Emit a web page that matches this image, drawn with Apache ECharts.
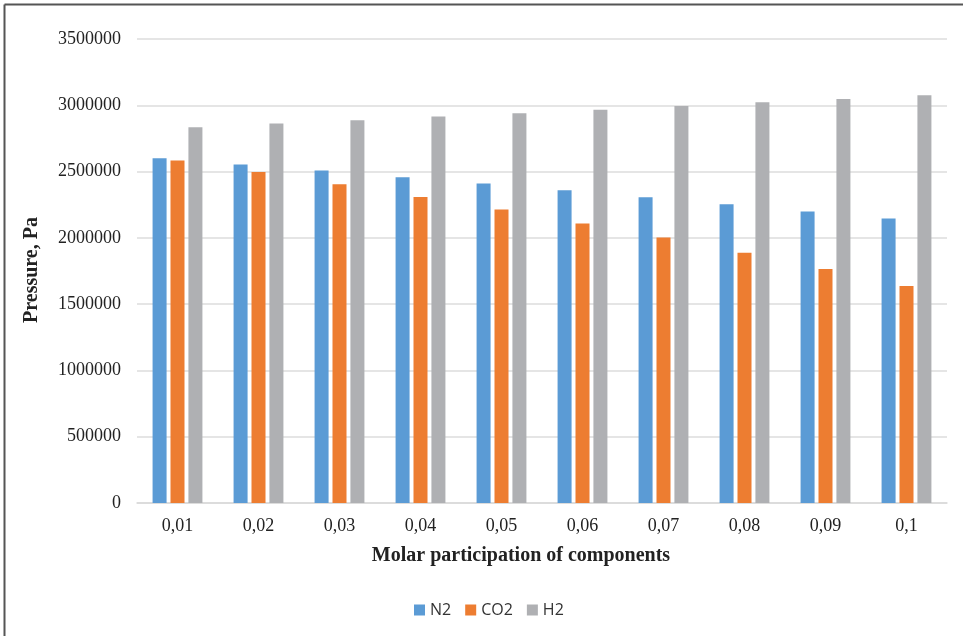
<!DOCTYPE html>
<html>
<head>
<meta charset="utf-8">
<script src="https://cdn.jsdelivr.net/npm/echarts@6/dist/echarts.min.js"></script>
<style>
  html, body { margin: 0; padding: 0; background: #fff; }
  #chart { width: 963px; height: 636px; }
</style>
</head>
<body>
<div id="chart"></div>
<script>
// Molar fraction of the admixed component
const categories = ['0,01', '0,02', '0,03', '0,04', '0,05', '0,06', '0,07', '0,08', '0,09', '0,1'];

// Pressure, Pa, for each admixed gas
const n2Values  = [2600000, 2553000, 2508000, 2457000, 2410000, 2359000, 2306000, 2254000, 2199000, 2146000];
const co2Values = [2583000, 2497000, 2404000, 2309000, 2214000, 2108000, 2003000, 1887000, 1766000, 1636000];
const h2Values  = [2834000, 2862000, 2887000, 2915000, 2940000, 2967000, 2995000, 3023000, 3048000, 3075000];

const seriesNames = ['N2', 'CO2', 'H2'];
const seriesColors = ['#5b9bd5', '#ed7d31', '#afb0b3'];

const chart = echarts.init(document.getElementById('chart'), null, { renderer: 'canvas' });

const serif = '"Liberation Serif", "Times New Roman", serif';

function barSeries(name, data, color) {
  return {
    name: name,
    type: 'bar',
    data: data,
    barWidth: 14,
    barGap: '28%',
    itemStyle: { color: color },
    emphasis: { disabled: true }
  };
}

chart.setOption({
  animation: false,
  backgroundColor: '#ffffff',
  grid: { left: 137, right: 16, top: 39, bottom: 133, containLabel: false },
  legend: {
    data: seriesNames,
    top: 602,
    left: 414,
    padding: 0,
    icon: 'rect',
    itemWidth: 11,
    itemHeight: 11,
    itemGap: 14,
    textStyle: { fontFamily: '"Open Sans", sans-serif', fontSize: 16, color: '#333' }
  },
  xAxis: {
    type: 'category',
    data: categories,
    axisLine: { lineStyle: { color: '#d9d9d9', width: 1.5 } },
    axisTick: { show: false },
    axisLabel: { fontFamily: serif, fontSize: 18, color: '#222', margin: 14 }
  },
  yAxis: {
    type: 'value',
    min: 0,
    max: 3500000,
    interval: 500000,
    axisLine: { show: false },
    axisTick: { show: false },
    splitLine: { lineStyle: { color: '#dcdcdc', width: 1.5 } },
    axisLabel: {
      fontFamily: serif, fontSize: 18, color: '#222', margin: 16,
      formatter: function (v) { return String(v); }
    }
  },
  series: [
    barSeries(seriesNames[0], n2Values, seriesColors[0]),
    barSeries(seriesNames[1], co2Values, seriesColors[1]),
    barSeries(seriesNames[2], h2Values, seriesColors[2])
  ],
  graphic: [
    // outer frame (top and left edges)
    { type: 'line', shape: { x1: 4.5, y1: 4.5, x2: 963, y2: 4.5 }, style: { stroke: '#555', lineWidth: 2 } },
    { type: 'line', shape: { x1: 4.5, y1: 4.5, x2: 4.5, y2: 636 }, style: { stroke: '#555', lineWidth: 2 } },
    // axis titles
    {
      type: 'text', x: 521, y: 556,
      style: {
        text: 'Molar participation of components',
        font: 'bold 20px ' + serif, fill: '#222',
        textAlign: 'center', textVerticalAlign: 'middle'
      }
    },
    {
      type: 'text', x: 32, y: 270, rotation: Math.PI / 2,
      style: {
        text: 'Pressure, Pa',
        font: 'bold 20px ' + serif, fill: '#222',
        textAlign: 'center', textVerticalAlign: 'middle'
      }
    }
  ]
});
</script>
</body>
</html>
